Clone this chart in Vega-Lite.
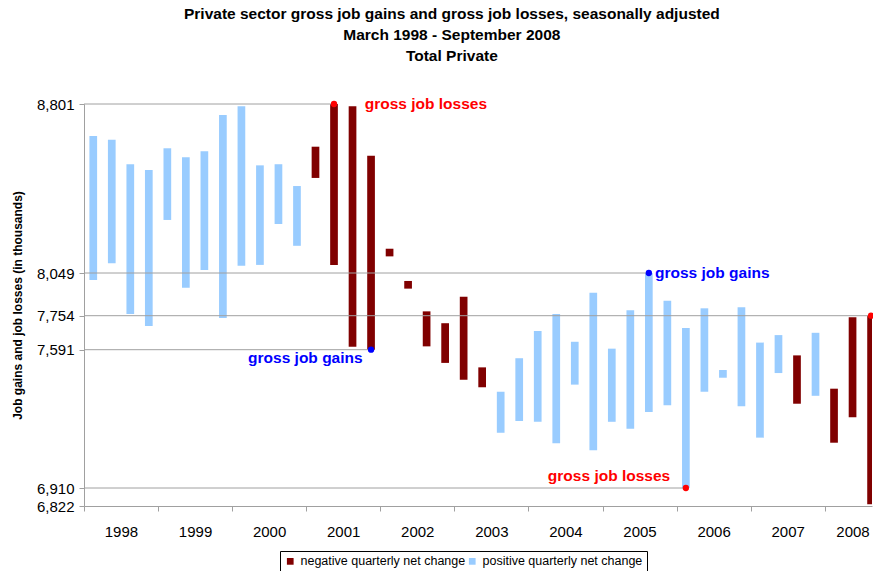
{
  "$schema": "https://vega.github.io/schema/vega-lite/v6.json",
  "width": 788,
  "height": 402,
  "padding": {"left": 11, "top": 6, "right": 0, "bottom": 0},
  "background": "white",
  "config": {
    "view": {"stroke": null},
    "font": "Liberation Sans"
  },
  "title": {
    "text": ["Private sector gross job gains and gross job losses, seasonally adjusted", "March 1998 - September 2008", "Total Private"],
    "font": "Liberation Sans",
    "fontSize": 15.5,
    "fontWeight": "bold",
    "lineHeight": 21,
    "anchor": "middle",
    "frame": "bounds",
    "offset": 33,
    "dx": 9,
    "color": "black"
  },
  "resolve": {"axis": {"x": "independent"}},
  "datasets": {
    "quarters": [
      {"t": 1998.125, "quarter": "Mar 1998", "gains": 8659, "losses": 8001, "net": "positive quarterly net change"},
      {"t": 1998.375, "quarter": "Jun 1998", "gains": 8642, "losses": 8092, "net": "positive quarterly net change"},
      {"t": 1998.625, "quarter": "Sep 1998", "gains": 8533, "losses": 7766, "net": "positive quarterly net change"},
      {"t": 1998.875, "quarter": "Dec 1998", "gains": 8507, "losses": 7705, "net": "positive quarterly net change"},
      {"t": 1999.125, "quarter": "Mar 1999", "gains": 8604, "losses": 8285, "net": "positive quarterly net change"},
      {"t": 1999.375, "quarter": "Jun 1999", "gains": 8564, "losses": 7947, "net": "positive quarterly net change"},
      {"t": 1999.625, "quarter": "Sep 1999", "gains": 8591, "losses": 8062, "net": "positive quarterly net change"},
      {"t": 1999.875, "quarter": "Dec 1999", "gains": 8752, "losses": 7743, "net": "positive quarterly net change"},
      {"t": 2000.125, "quarter": "Mar 2000", "gains": 8791, "losses": 8081, "net": "positive quarterly net change"},
      {"t": 2000.375, "quarter": "Jun 2000", "gains": 8528, "losses": 8085, "net": "positive quarterly net change"},
      {"t": 2000.625, "quarter": "Sep 2000", "gains": 8533, "losses": 8267, "net": "positive quarterly net change"},
      {"t": 2000.875, "quarter": "Dec 2000", "gains": 8436, "losses": 8170, "net": "positive quarterly net change"},
      {"t": 2001.125, "quarter": "Mar 2001", "gains": 8472, "losses": 8611, "net": "negative quarterly net change"},
      {"t": 2001.375, "quarter": "Jun 2001", "gains": 8085, "losses": 8801, "net": "negative quarterly net change"},
      {"t": 2001.625, "quarter": "Sep 2001", "gains": 7605, "losses": 8791, "net": "negative quarterly net change"},
      {"t": 2001.875, "quarter": "Dec 2001", "gains": 7591, "losses": 8571, "net": "negative quarterly net change"},
      {"t": 2002.125, "quarter": "Mar 2002", "gains": 8123, "losses": 8157, "net": "negative quarterly net change"},
      {"t": 2002.375, "quarter": "Jun 2002", "gains": 7941, "losses": 7994, "net": "negative quarterly net change"},
      {"t": 2002.625, "quarter": "Sep 2002", "gains": 7607, "losses": 7784, "net": "negative quarterly net change"},
      {"t": 2002.875, "quarter": "Dec 2002", "gains": 7526, "losses": 7718, "net": "negative quarterly net change"},
      {"t": 2003.125, "quarter": "Mar 2003", "gains": 7443, "losses": 7885, "net": "negative quarterly net change"},
      {"t": 2003.375, "quarter": "Jun 2003", "gains": 7406, "losses": 7504, "net": "negative quarterly net change"},
      {"t": 2003.625, "quarter": "Sep 2003", "gains": 7384, "losses": 7182, "net": "positive quarterly net change"},
      {"t": 2003.875, "quarter": "Dec 2003", "gains": 7549, "losses": 7240, "net": "positive quarterly net change"},
      {"t": 2004.125, "quarter": "Mar 2004", "gains": 7681, "losses": 7236, "net": "positive quarterly net change"},
      {"t": 2004.375, "quarter": "Jun 2004", "gains": 7766, "losses": 7130, "net": "positive quarterly net change"},
      {"t": 2004.625, "quarter": "Sep 2004", "gains": 7629, "losses": 7419, "net": "positive quarterly net change"},
      {"t": 2004.875, "quarter": "Dec 2004", "gains": 7913, "losses": 7096, "net": "positive quarterly net change"},
      {"t": 2005.125, "quarter": "Mar 2005", "gains": 7596, "losses": 7236, "net": "positive quarterly net change"},
      {"t": 2005.375, "quarter": "Jun 2005", "gains": 7791, "losses": 7202, "net": "positive quarterly net change"},
      {"t": 2005.625, "quarter": "Sep 2005", "gains": 8049, "losses": 7284, "net": "positive quarterly net change"},
      {"t": 2005.875, "quarter": "Dec 2005", "gains": 7858, "losses": 7317, "net": "positive quarterly net change"},
      {"t": 2006.125, "quarter": "Mar 2006", "gains": 7695, "losses": 6910, "net": "positive quarterly net change"},
      {"t": 2006.375, "quarter": "Jun 2006", "gains": 7805, "losses": 7384, "net": "positive quarterly net change"},
      {"t": 2006.625, "quarter": "Sep 2006", "gains": 7491, "losses": 7453, "net": "positive quarterly net change"},
      {"t": 2006.875, "quarter": "Dec 2006", "gains": 7812, "losses": 7312, "net": "positive quarterly net change"},
      {"t": 2007.125, "quarter": "Mar 2007", "gains": 7625, "losses": 7158, "net": "positive quarterly net change"},
      {"t": 2007.375, "quarter": "Jun 2007", "gains": 7661, "losses": 7476, "net": "positive quarterly net change"},
      {"t": 2007.625, "quarter": "Sep 2007", "gains": 7325, "losses": 7563, "net": "negative quarterly net change"},
      {"t": 2007.875, "quarter": "Dec 2007", "gains": 7672, "losses": 7364, "net": "positive quarterly net change"},
      {"t": 2008.125, "quarter": "Mar 2008", "gains": 7133, "losses": 7399, "net": "negative quarterly net change"},
      {"t": 2008.375, "quarter": "Jun 2008", "gains": 7258, "losses": 7746, "net": "negative quarterly net change"},
      {"t": 2008.625, "quarter": "Sep 2008", "gains": 6830, "losses": 7754, "net": "negative quarterly net change"}
    ],
    "extremes": [
      {"t": 2001.375, "value": 8801, "measure": "gross job losses", "start": 1998},
      {"t": 2001.875, "value": 7591, "measure": "gross job gains", "start": 1998},
      {"t": 2005.625, "value": 8049, "measure": "gross job gains", "start": 1998},
      {"t": 2006.125, "value": 6910, "measure": "gross job losses", "start": 1998},
      {"t": 2008.625, "value": 7754, "measure": "gross job losses", "start": 1998}
    ],
    "notes": [
      {"t": 2001.79, "value": 8801, "measure": "gross job losses"},
      {"t": 2000.215, "value": 7550, "measure": "gross job gains"},
      {"t": 2005.708, "value": 8049, "measure": "gross job gains"},
      {"t": 2004.262, "value": 6969, "measure": "gross job losses"}
    ]
  },
  "layer": [
    {
      "data": {"name": "quarters"},
      "mark": {"type": "bar", "size": 7.7, "clip": true},
      "encoding": {
        "x": {
          "field": "t",
          "type": "quantitative",
          "scale": {"domain": [1998, 2008.6375], "nice": false, "zero": false, "padding": 0},
          "axis": {
            "title": null,
            "grid": false,
            "orient": "bottom",
            "values": [1998, 1999, 2000, 2001, 2002, 2003, 2004, 2005, 2006, 2007, 2008],
            "labels": false,
            "tickSize": 5,
            "tickColor": "#A0A0A0",
            "domainColor": "#A0A0A0"
          }
        },
        "y": {
          "field": "gains",
          "type": "quantitative",
          "scale": {"domain": [6822, 6910, 7591, 7754, 8049, 8801], "range": [402, 384, 245.7, 211.7, 169, 0], "nice": false, "zero": false},
          "axis": {
            "title": "Job gains and job losses (in thousands)",
            "titleFont": "Liberation Sans",
            "titleFontSize": 12,
            "titleFontWeight": "bold",
            "titleColor": "black",
            "titlePadding": 12,
            "grid": false,
            "values": [6822, 6910, 7591, 7754, 8049, 8801],
            "format": ",d",
            "tickSize": 5,
            "tickColor": "#A0A0A0",
            "domainColor": "#A0A0A0",
            "labelFont": "Liberation Sans",
            "labelFontSize": 15,
            "labelColor": "black",
            "labelPadding": 5,
            "labelOverlap": false,
            "labelFlush": false
          }
        },
        "y2": {"field": "losses"},
        "color": {
          "field": "net",
          "type": "nominal",
          "scale": {
            "domain": ["negative quarterly net change", "positive quarterly net change", "gross job gains", "gross job losses"],
            "range": ["#800000", "#99CCFF", "#0000FF", "#FF0000"]
          },
          "legend": {
            "values": ["negative quarterly net change", "positive quarterly net change"],
            "title": null,
            "orient": "none",
            "legendX": 196,
            "legendY": 447,
            "direction": "horizontal",
            "strokeColor": "black",
            "fillColor": "white",
            "padding": 4,
            "cornerRadius": 0,
            "symbolType": "square",
            "symbolSize": 45,
            "symbolStrokeWidth": 0,
            "symbolOpacity": 1,
            "labelFont": "Liberation Sans",
            "labelFontSize": 12.5,
            "labelLimit": 400,
            "labelColor": "black",
            "labelOffset": 4,
            "columnPadding": 0
          }
        }
      }
    },
    {
      "data": {"name": "extremes"},
      "mark": {"type": "rule", "color": "#A0A0A0", "strokeWidth": 1},
      "encoding": {
        "x": {
          "field": "start",
          "type": "quantitative",
          "axis": {
            "title": null,
            "grid": false,
            "orient": "bottom",
            "values": [1998.499, 1999.499, 2000.499, 2001.499, 2002.499, 2003.499, 2004.499, 2005.499, 2006.499, 2007.499, 2008.374],
            "format": "d",
            "ticks": false,
            "domain": false,
            "labelFont": "Liberation Sans",
            "labelFontSize": 15,
            "labelColor": "black",
            "labelPadding": 18,
            "labelOverlap": false,
            "labelFlush": false
          }
        },
        "x2": {"field": "t"},
        "y": {"field": "value", "type": "quantitative"}
      }
    },
    {
      "data": {"name": "extremes"},
      "mark": {"type": "point", "filled": true, "size": 40, "opacity": 1},
      "encoding": {
        "x": {"field": "t", "type": "quantitative", "axis": null},
        "y": {"field": "value", "type": "quantitative"},
        "color": {"field": "measure", "type": "nominal"}
      }
    },
    {
      "data": {"name": "notes"},
      "mark": {"type": "text", "align": "left", "baseline": "middle", "font": "Liberation Sans", "fontSize": 15.5, "fontWeight": "bold"},
      "encoding": {
        "x": {"field": "t", "type": "quantitative", "axis": null},
        "y": {"field": "value", "type": "quantitative"},
        "text": {"field": "measure"},
        "color": {"field": "measure", "type": "nominal"}
      }
    }
  ]
}
